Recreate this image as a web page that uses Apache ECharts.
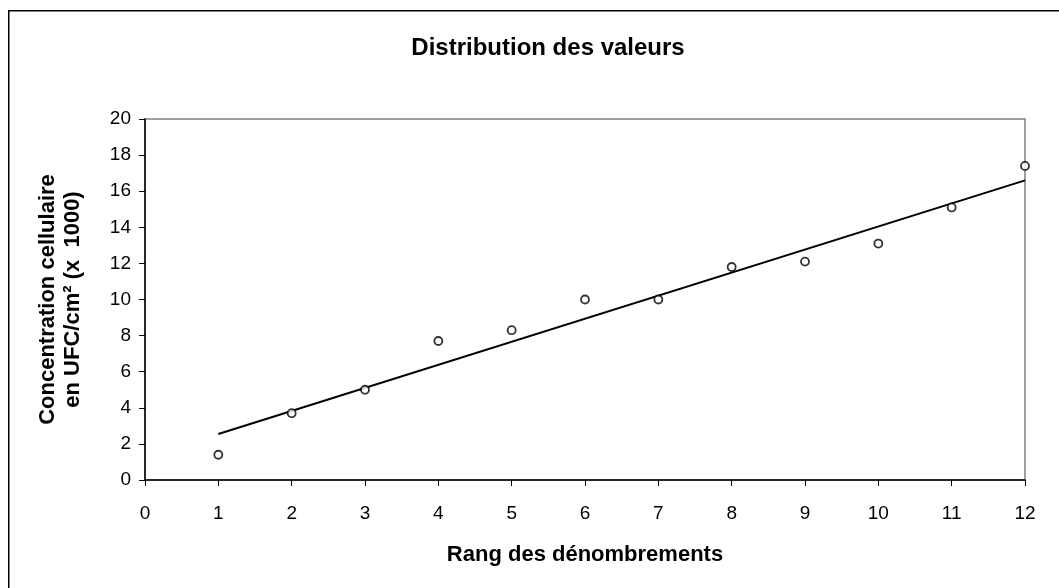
<!DOCTYPE html>
<html>
<head>
<meta charset="utf-8">
<script src="https://cdn.jsdelivr.net/npm/echarts@6/dist/echarts.min.js"></script>
<style>
html,body{margin:0;padding:0;background:#fff;}
#c{width:1059px;height:588px;}
</style>
</head>
<body>
<div id="c"></div>
<script>
// Data
const ranks = [1, 2, 3, 4, 5, 6, 7, 8, 9, 10, 11, 12];
const concentrations = [1.4, 3.7, 5.0, 7.7, 8.3, 10.0, 10.0, 11.8, 12.1, 13.1, 15.1, 17.4];
const trendX = [1, 12];
const trendY = [2.55, 16.6];
const xTicks = [0, 1, 2, 3, 4, 5, 6, 7, 8, 9, 10, 11, 12];
const yTicks = [0, 2, 4, 6, 8, 10, 12, 14, 16, 18, 20];
const titleText = 'Distribution des valeurs';
const xName = 'Rang des dénombrements';
const yName = 'Concentration cellulaire\nen UFC/cm² (x  1000)';

const points = ranks.map((r, i) => [r, concentrations[i]]);
const trend = trendX.map((x, i) => [x, trendY[i]]);

const font = '"Liberation Sans", Arial, sans-serif';
const chart = echarts.init(document.getElementById('c'), null, {renderer: 'canvas'});
chart.setOption({
  backgroundColor: '#fff',
  animation: false,
  graphic: [{
    type: 'rect', left: 8, top: 10, z: -10, silent: true,
    shape: {width: 1070, height: 600},
    style: {fill: '#fff', stroke: '#000', lineWidth: 1.5}
  }],
  title: {
    text: titleText, left: 543, top: 31, textAlign: 'center',
    textStyle: {fontFamily: font, fontSize: 24, fontWeight: 'bold', color: '#000'}
  },
  grid: {
    left: 145, right: 34, top: 119, bottom: 108,
    show: true, borderColor: '#808080', borderWidth: 1.5, backgroundColor: 'transparent'
  },
  xAxis: {
    type: 'value', min: xTicks[0], max: xTicks[xTicks.length - 1], interval: 1,
    name: xName, nameLocation: 'middle', nameGap: 64,
    nameTextStyle: {fontFamily: font, fontSize: 22, fontWeight: 'bold', color: '#000'},
    axisLine: {show: true, lineStyle: {color: '#000', width: 1.5}},
    axisTick: {show: true, inside: false, length: 6, lineStyle: {color: '#000'}},
    axisLabel: {fontFamily: font, fontSize: 19, color: '#000', margin: 24},
    splitLine: {show: false}
  },
  yAxis: {
    type: 'value', min: yTicks[0], max: yTicks[yTicks.length - 1], interval: 2,
    name: yName, nameLocation: 'middle', nameGap: 60, nameRotate: 90,
    nameTextStyle: {fontFamily: font, fontSize: 22, fontWeight: 'bold', color: '#000', lineHeight: 25},
    axisLine: {show: true, lineStyle: {color: '#000', width: 1.5}},
    axisTick: {show: true, inside: false, length: 6, lineStyle: {color: '#000'}},
    axisLabel: {fontFamily: font, fontSize: 19, color: '#000', margin: 14},
    splitLine: {show: false}
  },
  series: [
    {
      type: 'line', data: trend, symbol: 'none', z: 2,
      lineStyle: {color: '#000', width: 2}
    },
    {
      type: 'scatter', data: points, symbol: 'circle', symbolSize: 8, z: 3,
      itemStyle: {color: '#fff', borderColor: '#000', borderWidth: 1.8}
    }
  ]
});
</script>
</body>
</html>
